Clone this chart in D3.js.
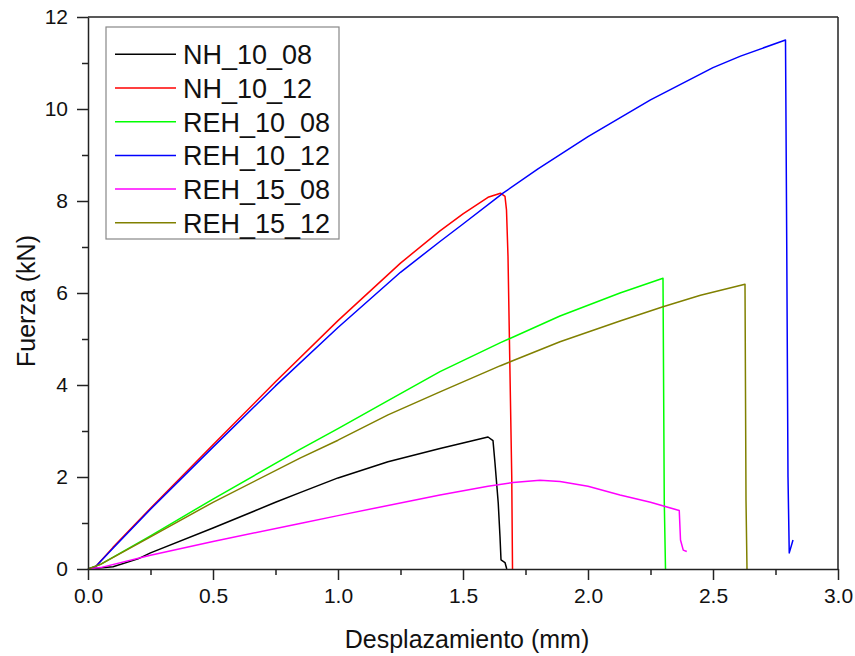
<!DOCTYPE html>
<html>
<head>
<meta charset="utf-8">
<script src="https://cdn.jsdelivr.net/npm/d3@7/dist/d3.min.js"></script>
<style>
  html, body { margin: 0; padding: 0; background: #fff; }
  svg { display: block; font-family: "Liberation Sans", Arial, sans-serif; }
</style>
</head>
<body>
<svg id="chart" width="855" height="656"></svg>
<script>
// ---- Data (displacement mm, force kN) ----
const seriesNames = ["NH_10_08", "NH_10_12", "REH_10_08", "REH_10_12", "REH_15_08", "REH_15_12"];
const seriesColors = ["#000000", "#ff0000", "#00ff00", "#0000ff", "#ff00ff", "#808000"];

const NH_10_08 = [[0,0],[0.1,0.05],[0.2,0.22],[0.25,0.35],[0.5,0.89],[0.75,1.45],[0.848,1.66],[1.0,1.98],[1.2,2.33],[1.408,2.62],[1.5,2.74],[1.6,2.87],[1.62,2.79],[1.628,2.3],[1.641,1.43],[1.648,0.7],[1.652,0.2],[1.668,0.14],[1.675,0]];
const NH_10_12 = [[0,0],[0.03,0.05],[0.1,0.47],[0.25,1.32],[0.5,2.7],[0.75,4.07],[1.0,5.4],[1.25,6.65],[1.408,7.35],[1.5,7.72],[1.6,8.08],[1.65,8.17],[1.668,8.1],[1.674,7.8],[1.68,6.8],[1.685,5.2],[1.69,3.6],[1.695,2.0],[1.698,0]];
const REH_10_08 = [[0,0],[0.05,0.1],[0.25,0.72],[0.5,1.52],[0.848,2.6],[1.0,3.05],[1.2,3.66],[1.408,4.29],[1.65,4.92],[1.888,5.5],[2.128,6.0],[2.3,6.32],[2.305,1.5],[2.31,0]];
const REH_10_12 = [[0,0],[0.03,0.05],[0.1,0.45],[0.25,1.3],[0.5,2.65],[0.75,3.98],[1.0,5.25],[1.25,6.45],[1.408,7.12],[1.5,7.5],[1.66,8.17],[1.8,8.7],[2.0,9.4],[2.25,10.2],[2.5,10.9],[2.61,11.15],[2.79,11.5],[2.795,7.0],[2.8,2.0],[2.805,0.35],[2.82,0.63]];
const REH_15_08 = [[0,0],[0.05,0.03],[0.25,0.3],[0.5,0.6],[0.848,0.99],[1.0,1.16],[1.408,1.61],[1.6,1.8],[1.7,1.88],[1.808,1.93],[1.888,1.9],[2.0,1.8],[2.128,1.61],[2.25,1.45],[2.365,1.27],[2.37,0.63],[2.381,0.41],[2.395,0.38]];
const REH_15_12 = [[0,0],[0.05,0.1],[0.25,0.7],[0.5,1.45],[0.848,2.41],[1.0,2.8],[1.2,3.35],[1.408,3.85],[1.65,4.42],[1.888,4.94],[2.128,5.39],[2.3,5.7],[2.45,5.95],[2.628,6.19],[2.632,1.5],[2.636,0]];

const xMajorTicks = [0.0, 0.5, 1.0, 1.5, 2.0, 2.5, 3.0];
const xMinorTicks = [0.25, 0.75, 1.25, 1.75, 2.25, 2.75];
const yMajorTicks = [0, 2, 4, 6, 8, 10, 12];
const yMinorTicks = [1, 3, 5, 7, 9, 11];
const xTitle = "Desplazamiento (mm)";
const yTitle = "Fuerza (kN)";

const allSeries = [NH_10_08, NH_10_12, REH_10_08, REH_10_12, REH_15_08, REH_15_12];

// ---- Layout ----
const svg = d3.select("#chart");
const L = 88, R = 838, T = 17, B = 569;
const x = d3.scaleLinear().domain([0, 3]).range([L, R]);
const y = d3.scaleLinear().domain([0, 12]).range([B, T]);
const axisColor = "#222";
const textColor = "#111";

// curves
const line = d3.line().x(d => x(d[0])).y(d => y(d[1]));
const plot = svg.append("g");
allSeries.forEach((s, i) => {
  plot.append("path")
    .datum(s)
    .attr("d", line)
    .attr("fill", "none")
    .attr("stroke", seriesColors[i])
    .attr("stroke-width", 1.5)
    .attr("stroke-linejoin", "round");
});

// frame (top and right)
svg.append("line").attr("x1", L).attr("x2", R).attr("y1", T).attr("y2", T)
  .attr("stroke", axisColor).attr("stroke-width", 1.5);
svg.append("line").attr("x1", R).attr("x2", R).attr("y1", T).attr("y2", B)
  .attr("stroke", axisColor).attr("stroke-width", 1.5);

// bottom axis
const xAxis = d3.axisBottom(x).tickValues(xMajorTicks).tickFormat(d3.format(".1f"))
  .tickSize(11).tickSizeOuter(0).tickPadding(8);
const gx = svg.append("g").attr("transform", `translate(0,${B})`).call(xAxis);
const xMinor = d3.axisBottom(x).tickValues(xMinorTicks).tickFormat("").tickSize(6).tickSizeOuter(0);
const gxm = svg.append("g").attr("transform", `translate(0,${B})`).call(xMinor);
gxm.select(".domain").remove();

// left axis
const yAxis = d3.axisLeft(y).tickValues(yMajorTicks).tickFormat(d3.format("d"))
  .tickSize(11).tickSizeOuter(0).tickPadding(9);
const gy = svg.append("g").attr("transform", `translate(${L},0)`).call(yAxis);
const yMinor = d3.axisLeft(y).tickValues(yMinorTicks).tickFormat("").tickSize(6).tickSizeOuter(0);
const gym = svg.append("g").attr("transform", `translate(${L},0)`).call(yMinor);
gym.select(".domain").remove();

[gx, gxm, gy, gym].forEach(g => {
  g.selectAll(".domain").attr("stroke", axisColor).attr("stroke-width", 1.5);
  g.selectAll(".tick line").attr("stroke", axisColor).attr("stroke-width", 1.5);
  g.selectAll(".tick text").attr("fill", textColor)
    .style("font-family", "'Liberation Sans', Arial, sans-serif").style("font-size", "21px");
});

// titles
svg.append("text").attr("x", (L + R) / 2 + 4).attr("y", 648)
  .attr("text-anchor", "middle").attr("fill", textColor)
  .style("font-size", "25px").text(xTitle);
svg.append("text").attr("transform", `translate(35,${(T + B) / 2 + 8}) rotate(-90)`)
  .attr("text-anchor", "middle").attr("fill", textColor)
  .style("font-size", "25px").text(yTitle);

// legend
const lg = svg.append("g");
lg.append("rect").attr("x", 106).attr("y", 27).attr("width", 233).attr("height", 212)
  .attr("fill", "#fff").attr("stroke", "#888").attr("stroke-width", 1.2);
seriesNames.forEach((name, i) => {
  const cy = 54.3 + i * 33.7;
  lg.append("line").attr("x1", 115).attr("x2", 176).attr("y1", cy).attr("y2", cy)
    .attr("stroke", seriesColors[i]).attr("stroke-width", 1.5);
  lg.append("text").attr("x", 183).attr("y", cy + 10).attr("fill", textColor)
    .style("font-size", "27px").text(name);
});
</script>
</body>
</html>
